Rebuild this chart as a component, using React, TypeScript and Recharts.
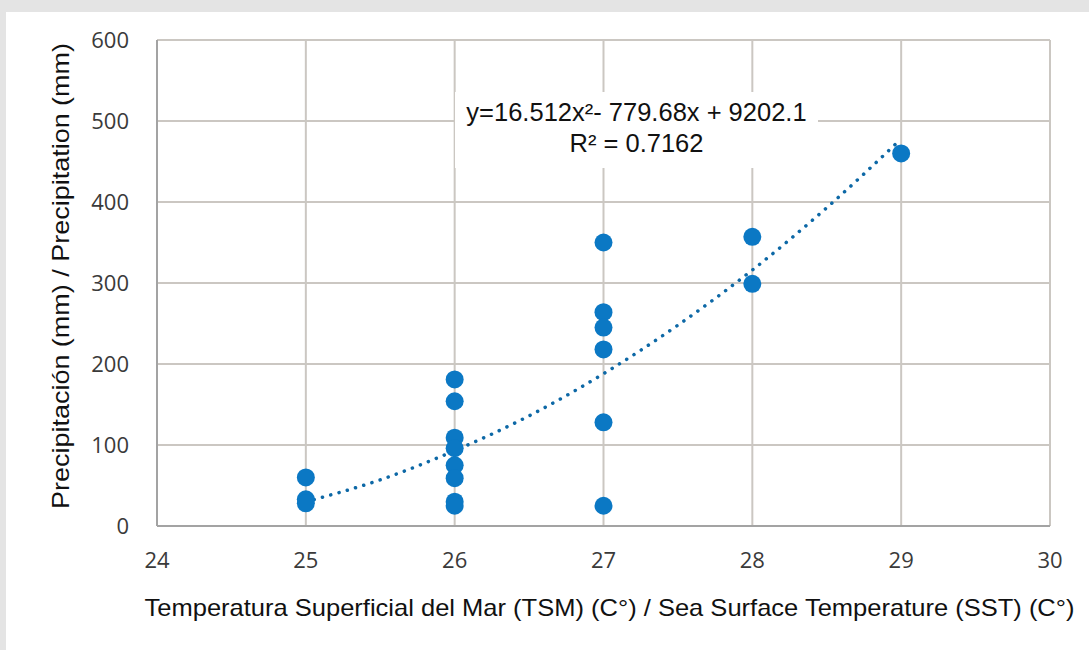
import React from "react";
import {
	ComposedChart,
	Scatter,
	Line,
	XAxis,
	YAxis,
	CartesianGrid,
} from "recharts";

// observed points: sea surface temperature (°C) vs precipitation (mm)
const sstValues = [
	25, 25, 25, 26, 26, 26, 26, 26, 26, 26, 26, 27, 27, 27, 27, 27, 27, 28, 28, 29,
];
const precipValues = [
	60, 33, 28, 181, 154, 109, 96, 75, 59, 30, 25, 350, 264, 245, 218, 128, 25, 357,
	299, 460,
];

// polynomial trend line
const trendX = [25, 25.5, 26, 26.5, 27, 27.5, 28, 28.5, 29];
const trendY = [30, 57, 93, 136, 188, 248, 316, 393, 478];

const xTicks = [24, 25, 26, 27, 28, 29, 30];
const yTicks = [0, 100, 200, 300, 400, 500, 600];

const xTitle =
	"Temperatura Superficial del Mar (TSM) (C°) / Sea Surface Temperature (SST) (C°)";
const yTitle = "Precipitación (mm) / Precipitation (mm)";
const equationLines = ["y=16.512x²- 779.68x + 9202.1", "R² = 0.7162"];

const points = sstValues.map((x, i) => ({ x, y: precipValues[i] }));
const trend = trendX.map((x, i) => ({ x, y: trendY[i] }));

const titleFont = '"Liberation Sans", Arial, sans-serif';
const tickFont = '"Open Sans", sans-serif';

const Dot = (props: any) => (
	<circle cx={props.cx} cy={props.cy} r={9} fill="#0b78c4" />
);

const XTitle = (props: any) => {
	const vb = props.viewBox;
	return (
		<text
			x={vb.x + vb.width / 2 + 6}
			y={vb.y + vb.height + 30}
			textAnchor="middle"
			fontFamily={titleFont}
			fontSize={24}
			textLength={930}
			lengthAdjust="spacingAndGlyphs"
			fill="#111"
		>
			{xTitle}
		</text>
	);
};

const YTitle = (props: any) => {
	const vb = props.viewBox;
	const x = vb.x + 12;
	const y = vb.y + vb.height / 2 - 7;
	return (
		<text
			x={x}
			y={y}
			transform={`rotate(-90 ${x} ${y})`}
			textAnchor="middle"
			fontFamily={titleFont}
			fontSize={24}
			textLength={466}
			lengthAdjust="spacingAndGlyphs"
			fill="#111"
		>
			{yTitle}
		</text>
	);
};

export default function App() {
	return (
		<div
			style={{
				position: "absolute",
				left: 0,
				top: 0,
				width: 1089,
				height: 650,
				background: "#e4e4e4",
				overflow: "hidden",
			}}
		>
			<div
				style={{
					position: "absolute",
					left: 6,
					top: 12,
					right: 0,
					bottom: 0,
					background: "#fff",
				}}
			/>
			<div style={{ position: "absolute", left: 0, top: 0 }}>
				<ComposedChart
					width={1089}
					height={650}
					margin={{ top: 40, right: 39, left: 57, bottom: 64 }}
				>
					<CartesianGrid stroke="#cbc7c2" strokeWidth={2} />
					<XAxis
						type="number"
						dataKey="x"
						domain={[24, 30]}
						ticks={xTicks}
						height={60}
						tickLine={false}
						tickSize={0}
						tickMargin={26}
						axisLine={{ stroke: "#a3a3a3", strokeWidth: 2 }}
						tick={{ fill: "#3a3a3a", fontSize: 22, fontFamily: tickFont }}
						label={<XTitle />}
					/>
					<YAxis
						type="number"
						dataKey="y"
						domain={[0, 600]}
						ticks={yTicks}
						width={100}
						tickLine={false}
						tickSize={0}
						tickMargin={28}
						axisLine={{ stroke: "#a3a3a3", strokeWidth: 2 }}
						tick={{ fill: "#3a3a3a", fontSize: 22, fontFamily: tickFont }}
						label={<YTitle />}
					/>
					<Line
						data={trend}
						dataKey="y"
						type="monotone"
						stroke="#0d68a6"
						strokeWidth={3.5}
						strokeDasharray="0.1 8.5"
						strokeLinecap="round"
						dot={false}
						activeDot={false}
						isAnimationActive={false}
					/>
					<Scatter
						data={points}
						dataKey="y"
						shape={Dot}
						isAnimationActive={false}
					/>
				</ComposedChart>
			</div>
			<div
				style={{
					position: "absolute",
					left: 455,
					top: 92,
					width: 363,
					height: 76,
					background: "#fff",
					paddingTop: 5,
					boxSizing: "border-box",
					textAlign: "center",
					fontFamily: titleFont,
					fontSize: 25.5,
					lineHeight: "31px",
					color: "#111",
				}}
			>
				{equationLines.map((t) => (
					<div key={t}>{t}</div>
				))}
			</div>
		</div>
	);
}
